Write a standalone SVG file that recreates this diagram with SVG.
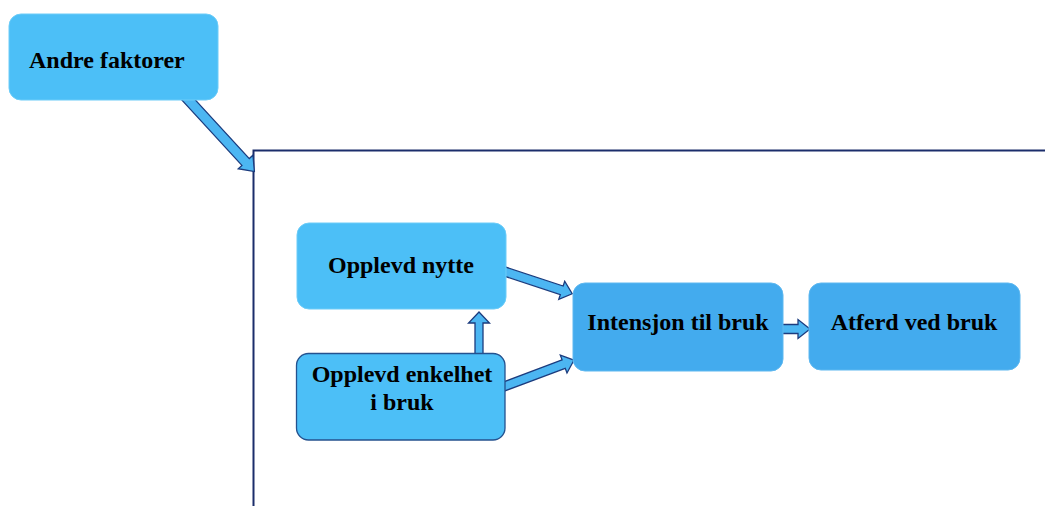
<svg xmlns="http://www.w3.org/2000/svg" width="1045" height="506" viewBox="0 0 1045 506">
  <style>
    .box { fill: #4cbff7; stroke: #6cccf8; stroke-width: 1; }
    .box-dark { fill: #43abee; stroke: #5fb8f0; stroke-width: 1; }
    .box-edge { stroke: #24528f; stroke-width: 1.3; }
    .label { font-family: "Liberation Serif", "Times New Roman", serif; font-weight: bold; font-size: 24px; fill: #000; }
    .arrow { fill: #4cb6f2; stroke: #1c3c7e; stroke-width: 1.3; stroke-linejoin: miter; }
    .frame { fill: none; stroke: #1b2d6b; stroke-width: 2; }
  </style>

  <!-- model boundary -->
  <rect class="frame" x="253.5" y="150.5" width="800" height="370"/>

  <!-- block arrows: local origin at tail, tip at (length, 0) -->
  <g id="connectors">
    <g transform="translate(184,95) rotate(47.4)">
      <polygon class="arrow" points="0,-5 91,-5 91,-10 104,0 91,10 91,5 0,5"/>
    </g>
    <g transform="translate(500,270) rotate(18.2)">
      <polygon class="arrow" points="0,-4.5 65,-4.5 65,-9.5 76,0 65,9.5 65,4.5 0,4.5"/>
    </g>
    <g transform="translate(500,388) rotate(-20.6)">
      <polygon class="arrow" points="0,-4.5 68,-4.5 68,-9.5 79,0 68,9.5 68,4.5 0,4.5"/>
    </g>
    <g transform="translate(479,355) rotate(-90)">
      <polygon class="arrow" points="0,-4 32,-4 32,-10.5 43,0 32,10.5 32,4 0,4"/>
    </g>
    <g transform="translate(782,329) rotate(0)">
      <polygon class="arrow" points="0,-4.5 16,-4.5 16,-9.5 28,0 16,9.5 16,4.5 0,4.5"/>
    </g>
  </g>

  <g id="andre-faktorer">
    <rect class="box" x="9" y="14" width="209" height="86" rx="12"/>
    <text class="label" x="29" y="68">Andre faktorer</text>
  </g>

  <g id="opplevd-nytte">
    <rect class="box" x="297" y="223" width="209" height="86" rx="12"/>
    <text class="label" x="401" y="273" text-anchor="middle">Opplevd nytte</text>
  </g>

  <g id="opplevd-enkelhet">
    <rect class="box box-edge" x="296.5" y="353.5" width="208.5" height="86.5" rx="12"/>
    <text class="label" x="402" y="382" text-anchor="middle">Opplevd enkelhet</text>
    <text class="label" x="402" y="410" text-anchor="middle">i bruk</text>
  </g>

  <g id="intensjon">
    <rect class="box-dark" x="573" y="283" width="210" height="88" rx="12"/>
    <text class="label" x="678" y="330" text-anchor="middle">Intensjon til bruk</text>
  </g>

  <g id="atferd">
    <rect class="box-dark" x="809" y="283" width="211" height="87" rx="12"/>
    <text class="label" x="914" y="330" text-anchor="middle">Atferd ved bruk</text>
  </g>
</svg>
